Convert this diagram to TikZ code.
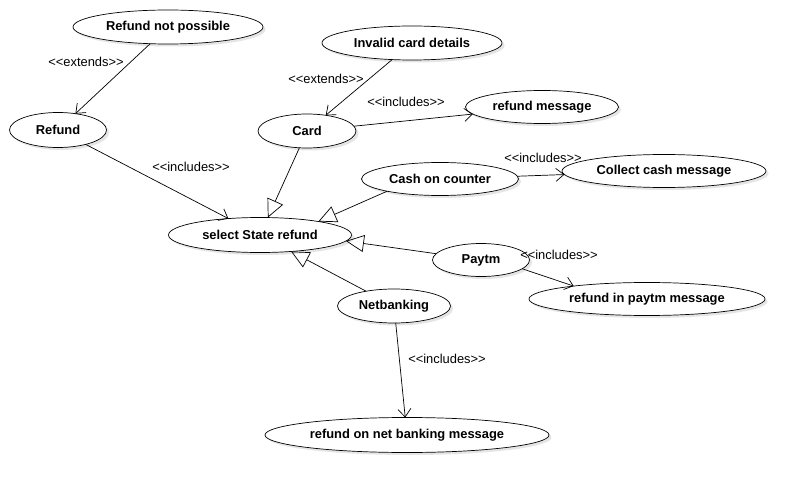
\documentclass[tikz,border=0pt]{standalone}
\usepackage{fontspec}
\setmainfont{Liberation Sans}[Ligatures=TeXOff]
\usetikzlibrary{arrows.meta,shapes.geometric,shadows}
\begin{document}
\begin{tikzpicture}[x=1pt,y=-1pt,
 uc/.style={ellipse, draw, line width=0.7pt, fill=white, inner sep=0pt, outer sep=0pt,
   font=\fontsize{12.9}{15}\selectfont\bfseries,
   drop shadow={shadow xshift=2.5pt,shadow yshift=-2.5pt,fill=black!10,opacity=1}},
 lbl/.style={font=\fontsize{12.9}{15}\selectfont, inner sep=0pt},
 dep/.style={draw, line width=0.7pt, -{Straight Barb[length=8pt,width=13pt]}},
 gen/.style={draw, line width=0.7pt, -{Triangle[open,length=18pt,width=17pt]}},
]
\useasboundingbox[fill=white] (0,0) rectangle (806,492);

\node[uc, minimum width=190pt, minimum height=34pt] (rnp) at (168,27) {Refund not possible};
\node[uc, minimum width=97pt, minimum height=35pt] (refund) at (58,130) {Refund};
\node[uc, minimum width=180pt, minimum height=34pt] (invalid) at (412,43) {Invalid card details};
\node[uc, minimum width=98pt, minimum height=34pt] (card) at (307,131) {Card};
\node[uc, minimum width=153pt, minimum height=33pt] (rm) at (542,107) {refund message};
\node[uc, minimum width=157pt, minimum height=33pt] (cash) at (440,179) {Cash on counter};
\node[uc, minimum width=204pt, minimum height=33pt] (ccm) at (664,171) {Collect cash message};
\node[uc, minimum width=97pt, minimum height=33pt] (paytm) at (481,260) {Paytm};
\node[uc, minimum width=236pt, minimum height=33pt] (rpm) at (647,299) {refund in paytm message};
\node[uc, minimum width=183pt, minimum height=35pt] (sel) at (260,235) {select State refund};
\node[uc, minimum width=113pt, minimum height=34pt] (nb) at (394,306) {Netbanking};
\node[uc, minimum width=284pt, minimum height=35pt] (rnb) at (407,435) {refund on net banking message};

\draw[dep] (rnp) -- (refund);
\draw[dep] (invalid) -- (card);
\draw[dep] (card) -- (rm);
\draw[dep] (refund) -- (sel);
\draw[gen] (card) -- (sel);
\draw[gen] (cash.193) -- (sel.13);
\draw[dep] (cash) -- (ccm);
\draw[gen] (paytm.172) -- (sel.-4);
\draw[dep] (paytm.-12) -- (rpm.170);
\draw[gen] (nb) -- (sel);
\draw[dep] (nb) -- (rnb);

\node[lbl] (l1) at (86,62) {<<extends>>};
\node[lbl] (l2) at (326,79) {<<extends>>};
\node[lbl] (l3) at (406,102) {<<includes>>};
\node[lbl] (l4) at (191,167) {<<includes>>};
\node[lbl] (l5) at (543,158) {<<includes>>};
\node[lbl] (l6) at (559,255) {<<includes>>};
\node[lbl] (l7) at (447,359) {<<includes>>};
\end{tikzpicture}
\end{document}
